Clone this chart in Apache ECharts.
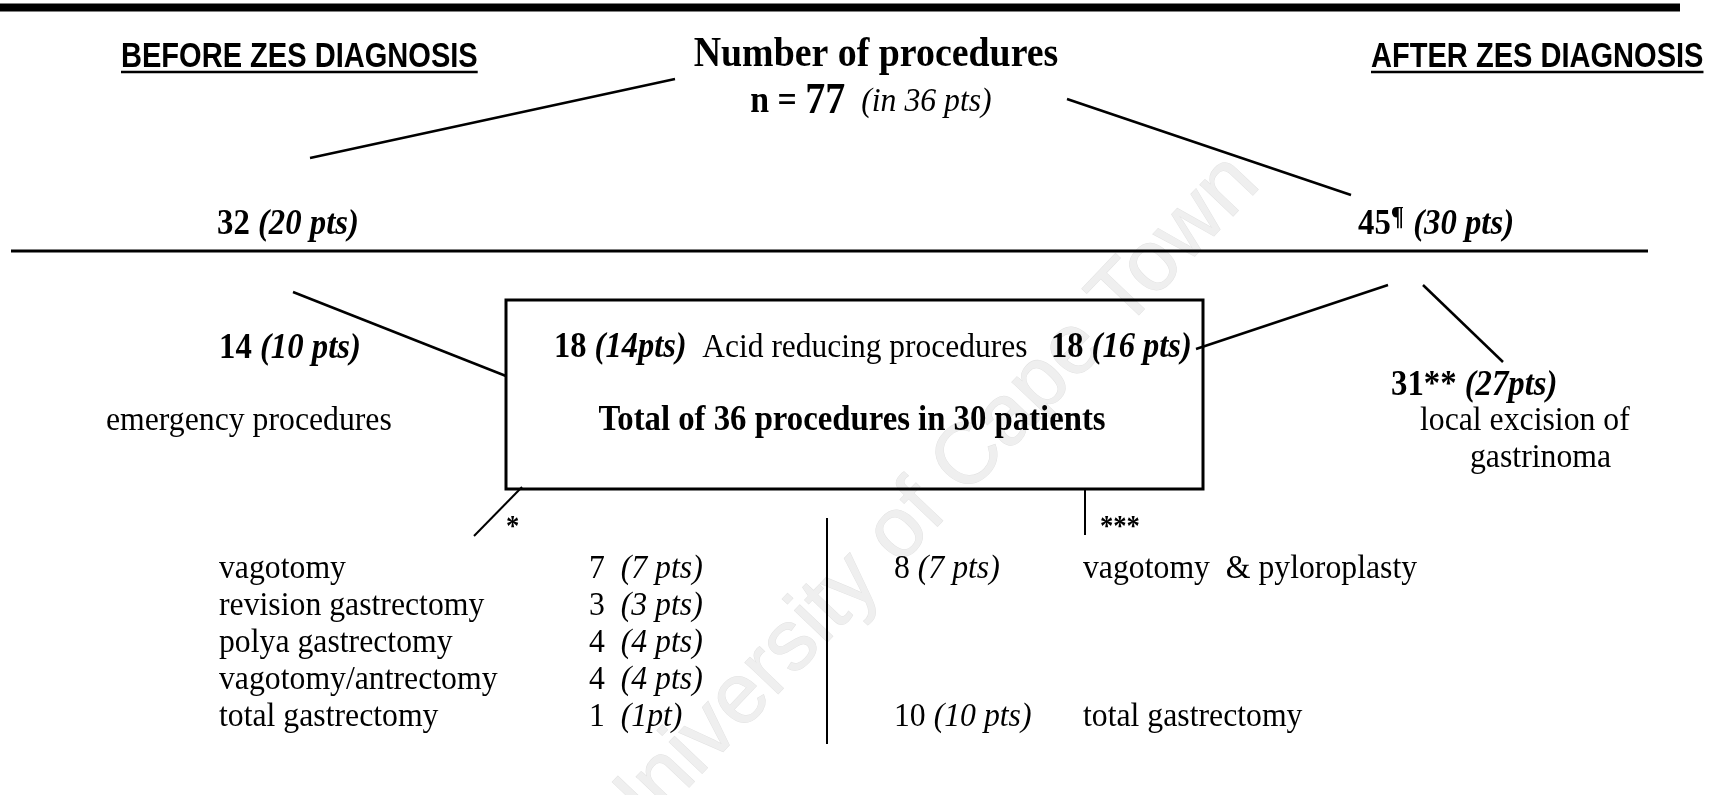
<!DOCTYPE html>
<html>
<head>
<meta charset="utf-8">
<script src="https://cdn.jsdelivr.net/npm/echarts@6/dist/echarts.min.js"></script>
<style>
html,body{margin:0;padding:0;background:#fff;}
#chart{width:1720px;height:795px;}
</style>
</head>
<body>
<div id="chart"></div>
<script>
// ---------------- DATA ----------------
const phaseTitles = ['BEFORE ZES DIAGNOSIS', 'AFTER ZES DIAGNOSIS'];
const chartTitle = 'Number of procedures';
const totalProcedures = 77;
const totalPatients = 36;
const phaseCounts = [32, 45];
const phasePatients = [20, 30];
const emergencyCount = 14;
const emergencyPatients = 10;
const acidCounts = [18, 18];
const acidPatients = [14, 16];
const acidTotal = 36;
const acidTotalPatients = 30;
const excisionCount = 31;
const excisionPatients = 27;
const beforeProcedures = ['vagotomy', 'revision gastrectomy', 'polya gastrectomy', 'vagotomy/antrectomy', 'total gastrectomy'];
const beforeProcCounts = [7, 3, 4, 4, 1];
const beforeProcPatients = [7, 3, 4, 4, 1];
const afterProcedures = ['vagotomy  & pyloroplasty', 'total gastrectomy'];
const afterProcCounts = [8, 10];
const afterProcPatients = [7, 10];
const watermark = 'University of Cape Town';

// ---------------- LAYOUT (positions / styles) ----------------
const SERIF = '"Liberation Serif","Times New Roman",serif';
const SANS = '"Liberation Sans",Arial,sans-serif';
const K = 1.12;          // vertical stretch of the serif type
const SX_SERIF = 0.915;  // horizontal squeeze of the serif type
const SANS_SIZE = 35;
const SX_SANS = 0.83;
const L = {
  phaseTitle: [[121, 57], [1371, 57]],
  underlineY: 72,
  title: [876, 55],
  subtitle: [871, 102],
  phaseCount: [[217, 225], [1358, 225]],
  emergency: [219, 349],
  emergencyLabel: [106, 421],
  acidLine: [554, 348],
  acidTotal: [852, 421],
  excision: [1391, 386],
  excisionLabel1: [1420, 421],
  excisionLabel2: [1470, 458],
  star1: [506, 527],
  star3: [1100, 527],
  beforeNameX: 219,
  beforeCountX: 589,
  listY: [569, 606, 643, 680, 717],
  afterCountX: 894,
  afterNameX: 1083,
  afterY: [569, 717],
  watermark: [925, 505]
};
const segments = [
  // [x1, y1, x2, y2, width]
  [0, 7.5, 1680, 7.5, 8],
  [11, 251, 1648, 251, 3],
  [310, 158, 675, 79, 2.5],
  [1067, 99, 1351, 195, 2.5],
  [293, 292, 506, 376, 2.5],
  [1196, 349, 1388, 285, 2.5],
  [1423, 285, 1503, 362, 2.5],
  [522, 487, 474, 536, 2],
  [1085, 489, 1085, 535, 2],
  [827, 518, 827, 744, 2]
];
const boxRect = [[506, 300, 1203, 489]];

// ---------------- BUILD ----------------
function pts(n, compact) {
  if (n === 1) return '(1pt)';
  return '(' + n + (compact ? 'pts)' : ' pts)');
}
function st(size, weight, italic, family, extra) {
  const o = {fontFamily: family || SERIF, fontSize: Math.round(size * K * 10) / 10, fill: '#000', color: '#000'};
  if (weight) o.fontWeight = 'bold';
  if (italic) o.fontStyle = 'italic';
  return Object.assign(o, extra || {});
}
const rich = {
  hb: st(32, true, false),
  hbi: st(32, true, true),
  acb: st(31.7, true, false),
  acbi: st(31.7, true, true),
  acr: st(30.7, false, false),
  r: st(31, false, false),
  ri: st(31, false, true),
  t: st(37, true, false),
  n: st(33, true, false),
  n77: st(39, true, false),
  nin: st(31, false, true),
  sup: st(24, true, false, SERIF, {verticalAlign: 'top', padding: [0, 1, 14, 0]}),
  star: st(26, true, false),
  sans: {fontFamily: SANS, fontWeight: 'bold', fontSize: SANS_SIZE, fill: '#000', color: '#000'}
};
const texts = [];
function addText(pos, text, align, sx) {
  texts.push({pos: pos, text: text, align: align || 'left', sx: sx || SX_SERIF});
}
addText(L.phaseTitle[0], '{sans|' + phaseTitles[0] + '}', 'left', SX_SANS);
addText(L.phaseTitle[1], '{sans|' + phaseTitles[1] + '}', 'left', SX_SANS);
addText(L.title, '{t|' + chartTitle + '}', 'center');
addText(L.subtitle, '{n|n = }{n77|' + totalProcedures + '}{nin|  (in ' + totalPatients + ' pts)}', 'center');
addText(L.phaseCount[0], '{hb|' + phaseCounts[0] + ' }{hbi|' + pts(phasePatients[0]) + '}');
addText(L.phaseCount[1], '{hb|' + phaseCounts[1] + '}{sup|¶}{hb| }{hbi|' + pts(phasePatients[1]) + '}');
addText(L.emergency, '{hb|' + emergencyCount + ' }{hbi|' + pts(emergencyPatients) + '}');
addText(L.emergencyLabel, '{r|emergency procedures}');
addText(L.acidLine, '{acb|' + acidCounts[0] + ' }{acbi|' + pts(acidPatients[0], true) + '}{acr|  Acid reducing procedures   }{acb|' + acidCounts[1] + ' }{acbi|' + pts(acidPatients[1]) + '}');
addText(L.acidTotal, '{hb|Total of ' + acidTotal + ' procedures in ' + acidTotalPatients + ' patients}', 'center');
addText(L.excision, '{hb|' + excisionCount + '** }{hbi|' + pts(excisionPatients, true) + '}');
addText(L.excisionLabel1, '{r|local excision of}');
addText(L.excisionLabel2, '{r|gastrinoma}');
addText(L.star1, '{star|*}');
addText(L.star3, '{star|***}');
beforeProcedures.forEach(function (name, i) {
  addText([L.beforeNameX, L.listY[i]], '{r|' + name + '}');
  addText([L.beforeCountX, L.listY[i]], '{r|' + beforeProcCounts[i] + '  }{ri|' + pts(beforeProcPatients[i]) + '}');
});
afterProcedures.forEach(function (name, i) {
  addText([L.afterCountX, L.afterY[i]], '{r|' + afterProcCounts[i] + ' }{ri|' + pts(afterProcPatients[i]) + '}');
  addText([L.afterNameX, L.afterY[i]], '{r|' + name + '}');
});

const chart = echarts.init(document.getElementById('chart'), null, {renderer: 'canvas'});

// underline length follows the drawn title width
function measure(text, font) {
  const c = document.createElement('canvas').getContext('2d');
  c.font = font;
  return c.measureText(text).width;
}
const underlineSegs = phaseTitles.map(function (t, i) {
  const w = measure(t, 'bold ' + SANS_SIZE + 'px ' + SANS) * SX_SANS;
  return [L.phaseTitle[i][0], L.underlineY, L.phaseTitle[i][0] + w, L.underlineY, 2.5];
});
const allSegs = segments.concat(underlineSegs);

const option = {
  animation: false,
  backgroundColor: '#fff',
  grid: {left: 0, right: 0, top: 0, bottom: 0},
  xAxis: {type: 'value', min: 0, max: 1720, show: false},
  yAxis: {type: 'value', min: 0, max: 795, inverse: true, show: false},
  series: [
    {
      type: 'custom', name: 'watermark', coordinateSystem: 'cartesian2d', clip: false, z: 1,
      data: [L.watermark],
      renderItem: function (params, api) {
        const p = api.coord([api.value(0), api.value(1)]);
        return {
          type: 'text', x: p[0], y: p[1], rotation: 0.81,
          style: {text: watermark, fontFamily: SANS, fontSize: 86, fill: '#efefef',
            stroke: '#e2e2e2', lineWidth: 1,
            align: 'center', verticalAlign: 'middle', textAlign: 'center', textVerticalAlign: 'middle'}
        };
      }
    },
    {
      type: 'custom', name: 'box', coordinateSystem: 'cartesian2d', clip: false, z: 2,
      data: boxRect,
      renderItem: function (params, api) {
        const a = api.coord([api.value(0), api.value(1)]);
        const b = api.coord([api.value(2), api.value(3)]);
        return {
          type: 'rect',
          shape: {x: a[0], y: a[1], width: b[0] - a[0], height: b[1] - a[1]},
          style: {fill: 'none', stroke: '#000', lineWidth: 3}
        };
      }
    },
    {
      type: 'custom', name: 'lines', coordinateSystem: 'cartesian2d', clip: false, z: 3,
      data: allSegs,
      renderItem: function (params, api) {
        const a = api.coord([api.value(0), api.value(1)]);
        const b = api.coord([api.value(2), api.value(3)]);
        return {
          type: 'line',
          shape: {x1: a[0], y1: a[1], x2: b[0], y2: b[1]},
          style: {stroke: '#000', lineWidth: api.value(4)}
        };
      }
    },
    {
      type: 'custom', name: 'texts', coordinateSystem: 'cartesian2d', clip: false, z: 4,
      data: texts.map(function (t) { return t.pos; }),
      renderItem: function (params, api) {
        const it = texts[params.dataIndex];
        const p = api.coord([api.value(0), api.value(1)]);
        return {
          type: 'text', x: p[0], y: p[1], scaleX: it.sx, scaleY: 1,
          style: {
            text: it.text, rich: rich, fill: '#000',
            fontFamily: SERIF, fontSize: 31,
            align: it.align, verticalAlign: 'middle',
            textAlign: it.align, textVerticalAlign: 'middle'
          }
        };
      }
    }
  ]
};
chart.setOption(option);
</script>
</body>
</html>
